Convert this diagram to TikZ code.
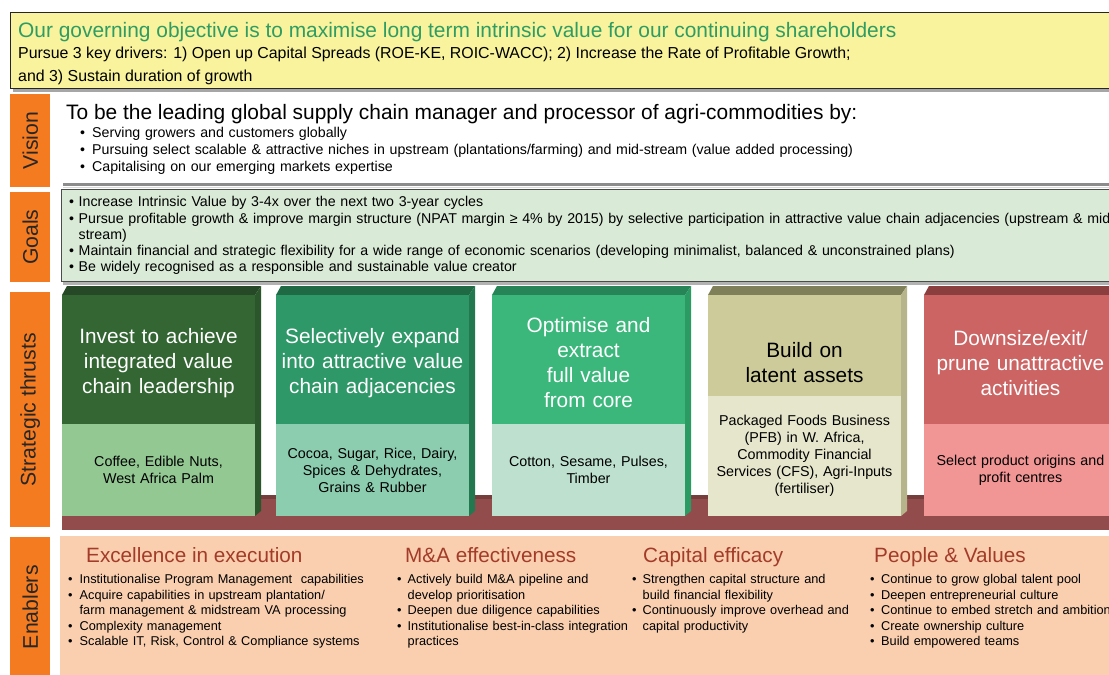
\documentclass[tikz,border=0pt]{standalone}
\usepackage{fontspec}
\setmainfont{Liberation Sans}
\definecolor{banner}{HTML}{F8F39C}
\definecolor{objgreen}{HTML}{2E9C63}
\definecolor{lblorange}{HTML}{F47B20}
\definecolor{goalsfill}{HTML}{D9EAD6}
\definecolor{barred}{HTML}{934C4C}
\definecolor{enabfill}{HTML}{F9CFAF}
\definecolor{enabhead}{HTML}{A33B28}
\definecolor{bAtop}{HTML}{336633}\definecolor{bAbot}{HTML}{93C893}\definecolor{bAside}{HTML}{2B552B}\definecolor{bAroof}{HTML}{264826}
\definecolor{bBtop}{HTML}{2F9868}\definecolor{bBbot}{HTML}{8CCDAF}\definecolor{bBside}{HTML}{24784F}\definecolor{bBroof}{HTML}{1F6A45}
\definecolor{bCtop}{HTML}{3BB77B}\definecolor{bCbot}{HTML}{BEE1CF}\definecolor{bCside}{HTML}{2C9A63}\definecolor{bCroof}{HTML}{278456}
\definecolor{bDtop}{HTML}{CCCB99}\definecolor{bDbot}{HTML}{E6E6CC}\definecolor{bDside}{HTML}{B5B48A}\definecolor{bDroof}{HTML}{7F7F5A}
\definecolor{bEtop}{HTML}{CC6464}\definecolor{bEbot}{HTML}{F29595}\definecolor{bEside}{HTML}{A84E4E}\definecolor{bEroof}{HTML}{8A3E3E}
\newcommand\fsz[2]{\fontsize{#1}{#2}\selectfont}
\newlength\bindent
\newcommand\bitem[1]{\par\hangindent=\bindent\hangafter=1\noindent\makebox[\bindent][l]{\textbullet}#1}
% #1 name, #2 x, #3 colour prefix, #4 split y, #5 title colour, #6 title, #7 body
\newcommand\thrust[7]{%
  \fill[#3roof] (#2,295) -- (#2+5,286) -- (#2+199,286) -- (#2+193,295) -- cycle;
  \fill[#3side] (#2+193,295) -- (#2+199,286) -- (#2+199,511) -- (#2+193,516) -- cycle;
  \fill[#3top] (#2,295) rectangle (#2+193,#4);
  \fill[#3bot] (#2,#4) rectangle (#2+193,516);
  \node[thrusttitle,text=#5] (#1-title) at (#2+96.5,363) {#6};
  \node[thrustbody] (#1-body) at (#2+96.5,{(#4+516)/2}) {#7};
}
\tikzset{
  sidelabel/.style={fill=lblorange, draw=none, minimum width=40pt, inner sep=0pt, anchor=north west},
  sidetext/.style={rotate=90, font=\fsz{21.2}{25}, text=black!85},
  thrusttitle/.style={text width=192pt, align=center, font=\fsz{20.8}{25}, inner sep=0pt},
  thrustbody/.style={text width=192pt, align=center, font=\fsz{14.3}{17}, inner sep=0pt},
  bullets/.style={anchor=north west, inner sep=0pt, align=left},
  enabtitle/.style={anchor=base west, inner sep=0pt, font=\fsz{20.7}{24}, text=enabhead},
}
\begin{document}
\begin{tikzpicture}[x=1pt,y=-1pt]
\clip (0,0) rectangle (1109,675);
\fill[white] (0,0) rectangle (1109,675);

% ---------- banner ----------
\fill[black!35] (13,15) rectangle (1115,92);
\node[draw=black!85, line width=1pt, fill=banner, anchor=north west, minimum width=1104pt, minimum height=76pt, inner sep=0pt] (banner) at (10,12) {};
\node[anchor=base west, inner sep=0pt, text=objgreen, font=\fsz{20.9}{24}] (objective) at (18,37) {Our governing objective is to maximise long term intrinsic value for our continuing shareholders};
\node[anchor=base west, inner sep=0pt, font=\fsz{15.9}{18}] (drivers1) at (18,58.5) {Pursue 3 key drivers: 1) Open up Capital Spreads (ROE-KE, ROIC-WACC); 2) Increase the Rate of Profitable Growth;};
\node[anchor=base west, inner sep=0pt, font=\fsz{15.9}{18}] (drivers2) at (18,81.5) {and 3) Sustain duration of growth};

% ---------- side labels ----------
\node[sidelabel, minimum height=93pt] (vislbl) at (10,94) {};
\node[sidetext] (vistxt) at (vislbl.center) {Vision};
\node[sidelabel, minimum height=90pt] (goallbl) at (10,192) {};
\node[sidetext] (goaltxt) at (goallbl.center) {Goals};
\node[sidelabel, minimum height=235pt] (stratlbl) at (10,292) {};
\node[sidetext] (strattxt) at (stratlbl.center) {Strategic thrusts};
\node[sidelabel, minimum height=140pt] (enablbl) at (10,537) {};
\node[sidetext] (enabtxt) at (enablbl.center) {Enablers};

% ---------- vision ----------
\draw[black!45, line width=2.5pt] (63,184.5) -- (1109,184.5);
\draw[black!15, line width=1pt] (63,187) -- (1109,187);
\node[anchor=base west, inner sep=0pt, font=\fsz{20.9}{24}] (vision) at (66,119) {To be the leading global supply chain manager and processor of agri-commodities by:};
\node[bullets, text width=900pt, font=\fsz{14.2}{17}\setlength\bindent{12pt}] (visionlist) at (80,120) {%
\bitem{Serving growers and customers globally}
\bitem{Pursuing select scalable \& attractive niches in upstream (plantations/farming) and mid-stream (value added processing)}
\bitem{Capitalising on our emerging markets expertise}\par};

% ---------- goals ----------
\fill[black!30] (63,192) rectangle (1112,285);
\node[draw=black!70, line width=1.2pt, fill=goalsfill, anchor=north west, minimum width=1060pt, minimum height=92pt, inner sep=0pt] (goals) at (61,189) {};
\node[bullets, text width=1100pt, font=\fsz{14.2}{16.25}\setlength\bindent{9.5pt}] (goallist) at (69,190.5) {%
\bitem{Increase Intrinsic Value by 3-4x over the next two 3-year cycles}
\bitem{Pursue profitable growth \& improve margin structure (NPAT margin ≥ 4\% by 2015) by selective participation in attractive value chain adjacencies (upstream \& mid\newline stream)}
\bitem{Maintain financial and strategic flexibility for a wide range of economic scenarios (developing minimalist, balanced \& unconstrained plans)}
\bitem{Be widely recognised as a responsible and sustainable value creator}\par};

% ---------- strategic thrusts ----------
\fill[barred] (62,495) rectangle (1109,530);
\fill[barred!80!black] (62,495) rectangle (1109,499);
\thrust{invest}{62}{bA}{424}{white}{Invest to achieve\\integrated value\\chain leadership}{Coffee, Edible Nuts,\\West Africa Palm}
\thrust{expand}{276}{bB}{424}{white}{Selectively expand\\into attractive value\\chain adjacencies}{Cocoa, Sugar, Rice, Dairy,\\Spices \& Dehydrates,\\Grains \& Rubber}
\thrust{optimise}{492}{bC}{424}{white}{Optimise and\\extract\\full value\\from core}{Cotton, Sesame, Pulses,\\Timber}
\thrust{build}{708}{bD}{396}{black}{Build on\\latent assets}{Packaged Foods Business\\(PFB) in W. Africa,\\Commodity Financial\\Services (CFS), Agri-Inputs\\(fertiliser)}
\thrust{downsize}{924}{bE}{424}{white}{Downsize/exit/\\prune unattractive\\activities}{Select product origins and\\profit centres}

% ---------- enablers ----------
\fill[enabfill] (60,536) rectangle (1109,675);
\node[enabtitle] (exc) at (86,562) {Excellence in execution};
\node[enabtitle] (mna) at (405,562) {M\&A effectiveness};
\node[enabtitle] (cap) at (643,562) {Capital efficacy};
\node[enabtitle] (ppl) at (874,562) {People \& Values};
\node[bullets, text width=320pt, font=\fsz{12.75}{15.5}\setlength\bindent{11.5pt}] (exclist) at (68,568) {%
\bitem{Institutionalise Program Management\ \ capabilities}
\bitem{Acquire capabilities in upstream plantation/\newline farm management \& midstream VA processing}
\bitem{Complexity management}
\bitem{Scalable IT, Risk, Control \& Compliance systems}\par};
\node[bullets, text width=320pt, font=\fsz{12.75}{15.5}\setlength\bindent{10.5pt}] (mnalist) at (397,568) {%
\bitem{Actively build M\&A pipeline and\newline develop prioritisation}
\bitem{Deepen due diligence capabilities}
\bitem{Institutionalise best-in-class integration\newline practices}\par};
\node[bullets, text width=320pt, font=\fsz{12.75}{15.5}\setlength\bindent{10.5pt}] (caplist) at (632,568) {%
\bitem{Strengthen capital structure and\newline build financial flexibility}
\bitem{Continuously improve overhead and\newline capital productivity}\par};
\node[bullets, text width=320pt, font=\fsz{12.75}{15.5}\setlength\bindent{11pt}] (ppllist) at (870,568) {%
\bitem{Continue to grow global talent pool}
\bitem{Deepen entrepreneurial culture}
\bitem{Continue to embed stretch and ambition}
\bitem{Create ownership culture}
\bitem{Build empowered teams}\par};
\end{tikzpicture}
\end{document}
